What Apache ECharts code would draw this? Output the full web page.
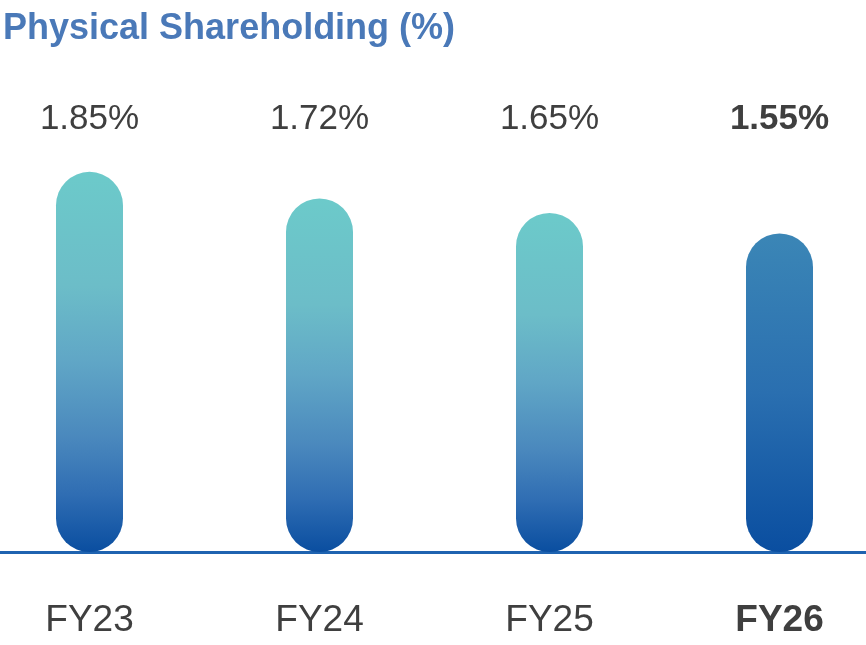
<!DOCTYPE html>
<html>
<head>
<meta charset="utf-8">
<script src="https://cdn.jsdelivr.net/npm/echarts@6/dist/echarts.min.js"></script>
<style>html,body{margin:0;padding:0;background:#fff;}#c{width:866px;height:645px;}</style>
</head>
<body>
<div id="c"></div>
<script>
const categories = ['FY23', 'FY24', 'FY25', 'FY26'];
const values = [1.85, 1.72, 1.65, 1.55];
const valueLabels = ['1.85%', '1.72%', '1.65%', '1.55%'];
const highlightIndex = 3;

const FONT = '"Liberation Sans", Arial, Helvetica, sans-serif';
const TEXT = '#3f3f3f';

function gradNormal() {
  return new echarts.graphic.LinearGradient(0, 0, 0, 1, [
    { offset: 0, color: '#6ccaca' },
    { offset: 0.3, color: '#6cbdc8' },
    { offset: 0.5, color: '#60a6c6' },
    { offset: 0.7, color: '#4a88bd' },
    { offset: 0.85, color: '#2f6db3' },
    { offset: 1, color: '#0a4ea0' }
  ]);
}
function gradHighlight() {
  return new echarts.graphic.LinearGradient(0, 0, 0, 1, [
    { offset: 0, color: '#3b86b6' },
    { offset: 0.5, color: '#2a6fb0' },
    { offset: 1, color: '#0a4ea0' }
  ]);
}

const chart = echarts.init(document.getElementById('c'), null, { renderer: 'canvas' });
chart.setOption({
  animation: false,
  backgroundColor: '#ffffff',
  title: {
    text: 'Physical Shareholding (%)',
    left: -2, top: 6,
    textStyle: { fontFamily: FONT, fontSize: 36, fontWeight: 'bold', color: '#4a79b8' }
  },
  grid: [
    { left: 89.5, right: 86.5, top: 141, bottom: 93, containLabel: false },
    { left: 0, right: 0, top: 141, bottom: 92.5, containLabel: false }
  ],
  xAxis: [
    {
      type: 'category',
      gridIndex: 0,
      position: 'bottom',
      boundaryGap: false,
      data: categories.map((c, i) => i === highlightIndex
        ? { value: c, textStyle: { fontWeight: 'bold' } } : c),
      axisLine: { show: false },
      axisTick: { show: false },
      axisLabel: { margin: 50, fontFamily: FONT, fontSize: 37, color: TEXT }
    },
    {
      type: 'category',
      gridIndex: 0,
      position: 'top',
      boundaryGap: false,
      data: valueLabels.map((c, i) => i === highlightIndex
        ? { value: c, textStyle: { fontWeight: 'bold' } } : c),
      axisLine: { show: false },
      axisTick: { show: false },
      axisLabel: { margin: 4, fontFamily: FONT, fontSize: 35, color: TEXT }
    },
    {
      type: 'category',
      gridIndex: 1,
      position: 'bottom',
      data: [],
      axisLine: { show: true, lineStyle: { color: '#1f63b0', width: 3 } },
      axisTick: { show: false },
      axisLabel: { show: false }
    }
  ],
  yAxis: [
    { type: 'value', gridIndex: 0, min: 0, max: 2, show: false, splitLine: { show: false } },
    { type: 'value', gridIndex: 1, min: 0, max: 2, show: false, splitLine: { show: false } }
  ],
  series: [{
    type: 'bar',
    xAxisIndex: 0,
    yAxisIndex: 0,
    barWidth: 67,
    data: values.map((v, i) => ({
      value: v,
      itemStyle: {
        color: i === highlightIndex ? gradHighlight() : gradNormal(),
        borderRadius: 33.5
      }
    })),
    z: 1
  }]
});
</script>
</body>
</html>
